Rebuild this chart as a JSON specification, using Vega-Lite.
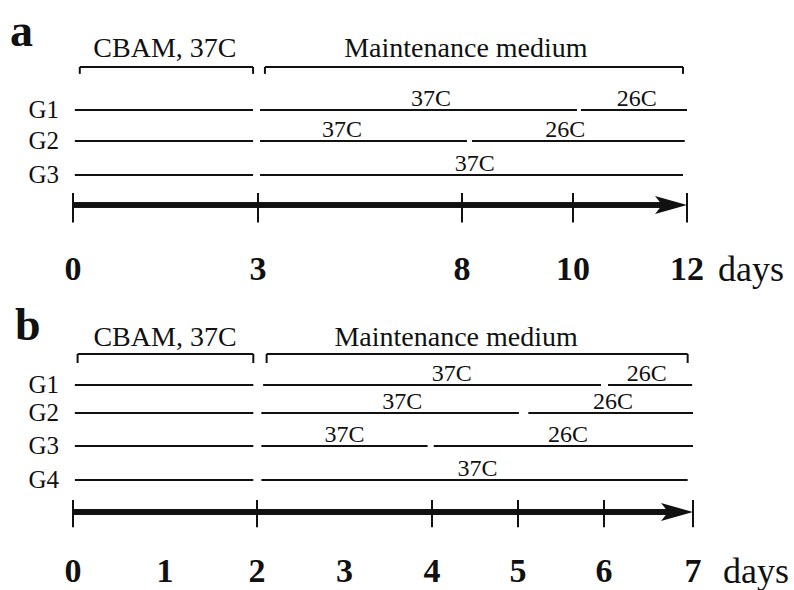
{
  "$schema": "https://vega.github.io/schema/vega-lite/v6.json",
  "padding": 0,
  "spacing": 0,
  "background": "white",
  "config": {"view": {"stroke": null}, "text": {"font": "Liberation Serif", "color": "#111"}},
  "datasets": {
    "segA": [
      {"lane": 1, "start": 0.03, "end": 2.92},
      {"lane": 2, "start": 0.03, "end": 2.92},
      {"lane": 3, "start": 0.03, "end": 2.92},
      {"lane": 1, "start": 3.05, "end": 10.07},
      {"lane": 1, "start": 10.14, "end": 12},
      {"lane": 2, "start": 3.05, "end": 8.09},
      {"lane": 2, "start": 8.18, "end": 11.96},
      {"lane": 3, "start": 3.05, "end": 11.93}
    ],
    "tempA": [
      {"lane": 1, "pos": 7.24, "temp": "37C"},
      {"lane": 1, "pos": 11.12, "temp": "26C"},
      {"lane": 2, "pos": 5.06, "temp": "37C"},
      {"lane": 2, "pos": 9.86, "temp": "26C"},
      {"lane": 3, "pos": 8.23, "temp": "37C"}
    ],
    "groupA": [{"lane": 1, "group": "G1"}, {"lane": 2, "group": "G2"}, {"lane": 3, "group": "G3"}],
    "brA": [
      {"start": 0.11, "end": 2.92, "mid": 1.49, "label": "CBAM, 37C"},
      {"start": 3.17, "end": 11.93, "mid": 8.07, "label": "Maintenance medium"}
    ],
    "ticksA": [{"day": 0}, {"day": 3}, {"day": 8}, {"day": 10}, {"day": 12}],
    "labelsA": [{"day": 0}, {"day": 3}, {"day": 8}, {"day": 10}, {"day": 12}],
    "segB": [
      {"lane": 1, "start": 0.02, "end": 1.96},
      {"lane": 2, "start": 0.02, "end": 1.96},
      {"lane": 3, "start": 0.02, "end": 1.96},
      {"lane": 4, "start": 0.02, "end": 1.96},
      {"lane": 1, "start": 2.07, "end": 5.965},
      {"lane": 1, "start": 6.045, "end": 6.99},
      {"lane": 2, "start": 2.05, "end": 5.01},
      {"lane": 2, "start": 5.12, "end": 7},
      {"lane": 3, "start": 2.05, "end": 3.95},
      {"lane": 3, "start": 4.02, "end": 7},
      {"lane": 4, "start": 2.05, "end": 6.94}
    ],
    "tempB": [
      {"lane": 1, "pos": 4.23, "temp": "37C"},
      {"lane": 1, "pos": 6.48, "temp": "26C"},
      {"lane": 2, "pos": 3.66, "temp": "37C"},
      {"lane": 2, "pos": 6.1, "temp": "26C"},
      {"lane": 3, "pos": 3.0, "temp": "37C"},
      {"lane": 3, "pos": 5.58, "temp": "26C"},
      {"lane": 4, "pos": 4.53, "temp": "37C"}
    ],
    "groupB": [{"lane": 1, "group": "G1"}, {"lane": 2, "group": "G2"}, {"lane": 3, "group": "G3"}, {"lane": 4, "group": "G4"}],
    "brB": [
      {"start": 0.05, "end": 1.96, "mid": 1.0, "label": "CBAM, 37C"},
      {"start": 2.11, "end": 6.94, "mid": 4.28, "label": "Maintenance medium"}
    ],
    "ticksB": [{"day": 0}, {"day": 2}, {"day": 4}, {"day": 5}, {"day": 6}, {"day": 7}],
    "labelsB": [{"day": 0}, {"day": 1}, {"day": 2}, {"day": 3}, {"day": 4}, {"day": 5}, {"day": 6}, {"day": 7}]
  },
  "vconcat": [
    {
      "width": 794,
      "height": 290,
      "layer": [
        {
          "data": {"name": "segA"},
          "mark": {"type": "rule", "strokeWidth": 2, "color": "#111"},
          "encoding": {
            "x": {"field": "start", "type": "quantitative", "axis": null, "scale": {"type": "linear", "domain": [0, 3, 8, 10, 12], "range": [73, 258, 462, 573, 687], "nice": false, "zero": false}},
            "x2": {"field": "end"},
            "y": {"field": "lane", "type": "quantitative", "axis": null, "scale": {"type": "linear", "domain": [-1, 0, 1, 2, 3, 4, 5], "range": [57, 67, 110, 141, 175, 205, 270], "nice": false, "zero": false}}
          }
        },
        {
          "data": {"name": "tempA"},
          "mark": {"type": "text", "fontSize": 24, "baseline": "alphabetic", "dy": -4},
          "encoding": {
            "x": {"field": "pos", "type": "quantitative"},
            "y": {"field": "lane", "type": "quantitative"},
            "text": {"field": "temp"}
          }
        },
        {
          "data": {"name": "groupA"},
          "mark": {"type": "text", "fontSize": 25, "align": "right", "baseline": "middle", "dx": -14},
          "encoding": {
            "x": {"datum": 0, "type": "quantitative"},
            "y": {"field": "lane", "type": "quantitative"},
            "text": {"field": "group"}
          }
        },
        {
          "data": {"name": "brA"},
          "mark": {"type": "rule", "strokeWidth": 2, "color": "#111"},
          "encoding": {
            "x": {"field": "start", "type": "quantitative"},
            "x2": {"field": "end"},
            "y": {"datum": 0, "type": "quantitative"}
          }
        },
        {
          "data": {"name": "brA"},
          "mark": {"type": "rule", "strokeWidth": 2, "color": "#111"},
          "encoding": {
            "x": {"field": "start", "type": "quantitative"},
            "y": {"datum": 0, "type": "quantitative"},
            "y2": {"datum": 0.16}
          }
        },
        {
          "data": {"name": "brA"},
          "mark": {"type": "rule", "strokeWidth": 2, "color": "#111"},
          "encoding": {
            "x": {"field": "end", "type": "quantitative"},
            "y": {"datum": 0, "type": "quantitative"},
            "y2": {"datum": 0.16}
          }
        },
        {
          "data": {"name": "brA"},
          "mark": {"type": "text", "fontSize": 28, "baseline": "alphabetic"},
          "encoding": {
            "x": {"field": "mid", "type": "quantitative"},
            "y": {"datum": -1, "type": "quantitative"},
            "text": {"field": "label"}
          }
        },
        {
          "data": {"name": "ticksA"},
          "mark": {"type": "rule", "strokeWidth": 2, "color": "#111"},
          "encoding": {
            "x": {"field": "day", "type": "quantitative"},
            "y": {"datum": 3.6, "type": "quantitative"},
            "y2": {"datum": 4.27}
          }
        },
        {
          "data": {"name": "ticksA"},
          "mark": {"type": "rule", "strokeWidth": 5, "color": "#111"},
          "encoding": {
            "x": {"datum": 0, "type": "quantitative"},
            "x2": {"datum": 11.8},
            "y": {"datum": 4, "type": "quantitative"}
          }
        },
        {
          "data": {"name": "ticksA"},
          "transform": [{"filter": "datum.day == 12"}],
          "mark": {"type": "point", "shape": "M0,0 L-2,-0.56 L-1.55,0 L-2,0.56 Z", "size": 1024, "filled": true, "color": "#111", "opacity": 1},
          "encoding": {
            "x": {"field": "day", "type": "quantitative"},
            "y": {"datum": 4, "type": "quantitative"}
          }
        },
        {
          "data": {"name": "labelsA"},
          "mark": {"type": "text", "fontSize": 34, "fontWeight": "bold", "baseline": "middle"},
          "encoding": {
            "x": {"field": "day", "type": "quantitative"},
            "y": {"datum": 5, "type": "quantitative"},
            "text": {"field": "day", "type": "quantitative"}
          }
        },
        {
          "data": {"name": "labelsA"},
          "transform": [{"filter": "datum.day == 12"}],
          "mark": {"type": "text", "fontSize": 36, "baseline": "middle", "align": "left", "dx": 31},
          "encoding": {
            "x": {"field": "day", "type": "quantitative"},
            "y": {"datum": 5, "type": "quantitative"},
            "text": {"value": "days"}
          }
        },
        {
          "data": {"name": "labelsA"},
          "transform": [{"filter": "datum.day == 0"}],
          "mark": {"type": "text", "fontSize": 46, "fontWeight": "bold", "baseline": "alphabetic", "align": "left", "dx": -63, "dy": -11},
          "encoding": {
            "x": {"field": "day", "type": "quantitative"},
            "y": {"datum": -1, "type": "quantitative"},
            "text": {"value": "a"}
          }
        }
      ]
    },
    {
      "width": 794,
      "height": 300,
      "layer": [
        {
          "data": {"name": "segB"},
          "mark": {"type": "rule", "strokeWidth": 2, "color": "#111"},
          "encoding": {
            "x": {"field": "start", "type": "quantitative", "axis": null, "scale": {"type": "linear", "domain": [0, 2, 4, 5, 6, 7], "range": [73, 257, 432, 518, 604, 693], "nice": false, "zero": false}},
            "x2": {"field": "end"},
            "y": {"field": "lane", "type": "quantitative", "axis": null, "scale": {"type": "linear", "domain": [-1, 0, 1, 2, 3, 4, 5, 6], "range": [56, 64, 95, 123, 156, 190, 222, 282], "nice": false, "zero": false}}
          }
        },
        {
          "data": {"name": "tempB"},
          "mark": {"type": "text", "fontSize": 24, "baseline": "alphabetic", "dy": -4},
          "encoding": {
            "x": {"field": "pos", "type": "quantitative"},
            "y": {"field": "lane", "type": "quantitative"},
            "text": {"field": "temp"}
          }
        },
        {
          "data": {"name": "groupB"},
          "mark": {"type": "text", "fontSize": 25, "align": "right", "baseline": "middle", "dx": -14},
          "encoding": {
            "x": {"datum": 0, "type": "quantitative"},
            "y": {"field": "lane", "type": "quantitative"},
            "text": {"field": "group"}
          }
        },
        {
          "data": {"name": "brB"},
          "mark": {"type": "rule", "strokeWidth": 2, "color": "#111"},
          "encoding": {
            "x": {"field": "start", "type": "quantitative"},
            "x2": {"field": "end"},
            "y": {"datum": 0, "type": "quantitative"}
          }
        },
        {
          "data": {"name": "brB"},
          "mark": {"type": "rule", "strokeWidth": 2, "color": "#111"},
          "encoding": {
            "x": {"field": "start", "type": "quantitative"},
            "y": {"datum": 0, "type": "quantitative"},
            "y2": {"datum": 0.29}
          }
        },
        {
          "data": {"name": "brB"},
          "mark": {"type": "rule", "strokeWidth": 2, "color": "#111"},
          "encoding": {
            "x": {"field": "end", "type": "quantitative"},
            "y": {"datum": 0, "type": "quantitative"},
            "y2": {"datum": 0.29}
          }
        },
        {
          "data": {"name": "brB"},
          "mark": {"type": "text", "fontSize": 28, "baseline": "alphabetic"},
          "encoding": {
            "x": {"field": "mid", "type": "quantitative"},
            "y": {"datum": -1, "type": "quantitative"},
            "text": {"field": "label"}
          }
        },
        {
          "data": {"name": "ticksB"},
          "mark": {"type": "rule", "strokeWidth": 2, "color": "#111"},
          "encoding": {
            "x": {"field": "day", "type": "quantitative"},
            "y": {"datum": 4.625, "type": "quantitative"},
            "y2": {"datum": 5.254}
          }
        },
        {
          "data": {"name": "ticksB"},
          "mark": {"type": "rule", "strokeWidth": 5, "color": "#111"},
          "encoding": {
            "x": {"datum": 0, "type": "quantitative"},
            "x2": {"datum": 6.8},
            "y": {"datum": 5, "type": "quantitative"}
          }
        },
        {
          "data": {"name": "ticksB"},
          "transform": [{"filter": "datum.day == 7"}],
          "mark": {"type": "point", "shape": "M0,0 L-2,-0.56 L-1.55,0 L-2,0.56 Z", "size": 1024, "filled": true, "color": "#111", "opacity": 1},
          "encoding": {
            "x": {"field": "day", "type": "quantitative"},
            "y": {"datum": 5, "type": "quantitative"}
          }
        },
        {
          "data": {"name": "labelsB"},
          "mark": {"type": "text", "fontSize": 34, "fontWeight": "bold", "baseline": "middle"},
          "encoding": {
            "x": {"field": "day", "type": "quantitative"},
            "y": {"datum": 6, "type": "quantitative"},
            "text": {"field": "day", "type": "quantitative"}
          }
        },
        {
          "data": {"name": "labelsB"},
          "transform": [{"filter": "datum.day == 7"}],
          "mark": {"type": "text", "fontSize": 36, "baseline": "middle", "align": "left", "dx": 30},
          "encoding": {
            "x": {"field": "day", "type": "quantitative"},
            "y": {"datum": 6, "type": "quantitative"},
            "text": {"value": "days"}
          }
        },
        {
          "data": {"name": "labelsB"},
          "transform": [{"filter": "datum.day == 0"}],
          "mark": {"type": "text", "fontSize": 46, "fontWeight": "bold", "baseline": "alphabetic", "align": "left", "dx": -58, "dy": -6},
          "encoding": {
            "x": {"field": "day", "type": "quantitative"},
            "y": {"datum": -1, "type": "quantitative"},
            "text": {"value": "b"}
          }
        }
      ]
    }
  ]
}
